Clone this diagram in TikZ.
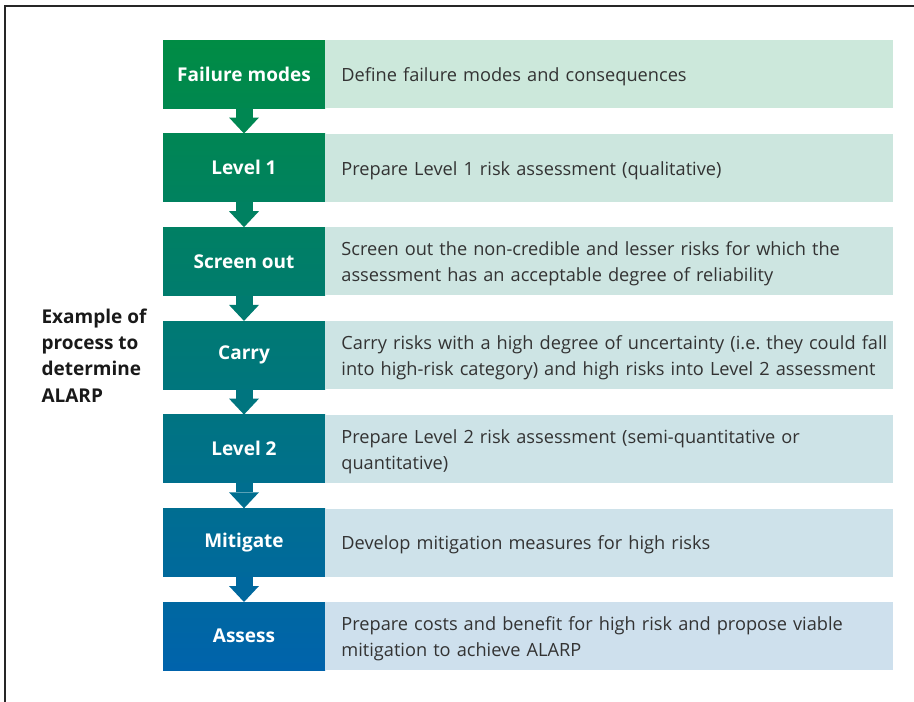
\documentclass[tikz,border=0pt]{standalone}
\usepackage{fontspec}
\setmainfont{Open Sans}
\usepackage{tikz}
\usetikzlibrary{positioning, arrows.meta}
\definecolor{stepgreen}{HTML}{008C44}
\definecolor{stepblue}{HTML}{0063AC}
\definecolor{notegreen}{HTML}{CCE8DA}
\definecolor{noteblue}{HTML}{CEE0EE}
\definecolor{bodytext}{HTML}{333333}
\newcommand{\bodyfont}{\fontsize{18.2}{26}\selectfont}
\newcommand{\headfont}{\fontsize{19}{26.3}\selectfont\bfseries}

\begin{document}
\begin{tikzpicture}[x=1pt, y=-1pt,
  stepbox/.style={minimum width=162pt, minimum height=68pt, inner sep=0pt, font=\headfont, text=white},
  notebox/.style={minimum width=568pt, minimum height=68pt, text width=560pt, text height=19pt, inner xsep=4pt, inner ysep=0pt, align=left, font=\bodyfont, text=bodytext, execute at begin node={\leftskip=12pt}},
  flow/.style={line width=17pt, -{Triangle[width=30pt, length=16pt, line width=0pt]}}
]
  \useasboundingbox (0,0) rectangle (914,702);
  \draw[line width=1.3pt, black!85] (5,702) -- (5,6) -- (914,6);

  \node[anchor=west, align=left, font=\headfont, text=black!90] (title) at (38,355.5) {Example of\\process to\\determine\\ALARP};

  \node[stepbox, top color=stepgreen, bottom color=stepblue!11!stepgreen] (fail) at (244,74) {Failure modes};
  \node[stepbox, top color=stepblue!15!stepgreen, bottom color=stepblue!26!stepgreen] (lvl1) at (244,167.7) {Level 1};
  \node[stepbox, top color=stepblue!30!stepgreen, bottom color=stepblue!40!stepgreen] (screen) at (244,261.4) {Screen out};
  \node[stepbox, top color=stepblue!45!stepgreen, bottom color=stepblue!55!stepgreen] (carry) at (244,355.1) {Carry};
  \node[stepbox, top color=stepblue!59!stepgreen, bottom color=stepblue!70!stepgreen] (lvl2) at (244,448.8) {Level 2};
  \node[stepbox, top color=stepblue!74!stepgreen, bottom color=stepblue!85!stepgreen] (mitig) at (244,542.5) {Mitigate};
  \node[stepbox, top color=stepblue!89!stepgreen, bottom color=stepblue] (assess) at (244,636.2) {Assess};

  \node[notebox, fill=noteblue!5!notegreen, right=0pt of fail] (failtxt) {Define failure modes and consequences};
  \node[notebox, fill=noteblue!20!notegreen, right=0pt of lvl1] (lvl1txt) {Prepare Level 1 risk assessment (qualitative)};
  \node[notebox, fill=noteblue!35!notegreen, right=0pt of screen] (screentxt) {Screen out the non-credible and lesser risks for which the\\assessment has an acceptable degree of reliability};
  \node[notebox, fill=noteblue!50!notegreen, right=0pt of carry] (carrytxt) {Carry risks with a high degree of uncertainty (i.e.\ they could fall\\into high-risk category) and high risks into Level 2 assessment};
  \node[notebox, fill=noteblue!65!notegreen, right=0pt of lvl2] (lvl2txt) {Prepare Level 2 risk assessment (semi-quantitative or\\quantitative)};
  \node[notebox, fill=noteblue!80!notegreen, right=0pt of mitig] (mitigtxt) {Develop mitigation measures for high risks};
  \node[notebox, fill=noteblue!95!notegreen, right=0pt of assess] (assesstxt) {Prepare costs and benefit for high risk and propose viable\\mitigation to achieve ALARP};

  \draw[flow, stepblue!13!stepgreen] (fail) -- (lvl1);
  \draw[flow, stepblue!28!stepgreen] (lvl1) -- (screen);
  \draw[flow, stepblue!42!stepgreen] (screen) -- (carry);
  \draw[flow, stepblue!57!stepgreen] (carry) -- (lvl2);
  \draw[flow, stepblue!72!stepgreen] (lvl2) -- (mitig);
  \draw[flow, stepblue!87!stepgreen] (mitig) -- (assess);
\end{tikzpicture}
\end{document}
